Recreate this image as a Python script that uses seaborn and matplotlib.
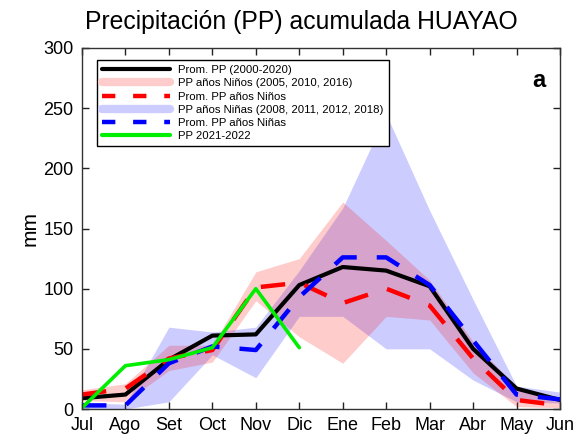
import matplotlib
matplotlib.use("Agg")
import matplotlib.pyplot as plt
import seaborn as sns
import numpy as np
import pandas as pd
from matplotlib.lines import Line2D

# ---------------- data ----------------
months = ["Jul", "Ago", "Set", "Oct", "Nov", "Dic", "Ene", "Feb", "Mar", "Abr", "May", "Jun"]
prom_pp = [9, 12, 41, 61, 62, 103, 118, 115, 102, 50, 17, 7.5]
prom_ninos = [12, 17, 42, 49, 101, 105, 88, 100, 86, 42, 7.5, 3]
prom_ninas = [3, 3, 38, 52, 49, 93, 126, 126, 103, 57, 12, 8]
ninos_max = [16, 21, 53, 53, 114, 125, 172, 140, 107, 56, 18, 6]
ninos_min = [7, 6, 32, 39, 90, 60, 38, 77, 74, 30, 2, 1]
ninas_max = [5, 4, 68, 64, 68, 115, 167, 245, 165, 91, 19, 14]
ninas_min = [0, 0, 6, 45, 26, 77, 77, 50, 50, 24, 6, 5]
pp_2122_months = ["Jul", "Ago", "Set", "Oct", "Nov", "Dic"]
pp_2122 = [1, 36, 41, 51, 100, 51]

labels = ["Prom. PP (2000-2020)",
          "PP años Niños (2005, 2010, 2016)",
          "Prom. PP años Niños",
          "PP años Niñas (2008, 2011, 2012, 2018)",
          "Prom. PP años Niñas",
          "PP 2021-2022"]

# ---------------- style ----------------
sns.set_style("ticks")
plt.rcParams["font.family"] = ["Liberation Sans", "DejaVu Sans"]
plt.rcParams["text.color"] = "black"
plt.rcParams["axes.labelcolor"] = "black"
plt.rcParams["xtick.color"] = "black"
plt.rcParams["ytick.color"] = "black"

fig = plt.figure(figsize=(5.81, 4.34), dpi=100)
ax = fig.add_axes([82/581, 1-409/434, (560-82)/581, (409-48)/434])

xi = np.arange(len(months))
df = pd.DataFrame({"x": xi, "prom": prom_pp, "ninos": prom_ninos, "ninas": prom_ninas,
                   "nmax": ninos_max, "nmin": ninos_min, "amax": ninas_max, "amin": ninas_min})
df_g = pd.DataFrame({"x": np.arange(len(pp_2122_months)), "pp": pp_2122})

pink = (1.0, 0.0, 0.0, 0.2)
lilac = (0.0, 0.0, 1.0, 0.2)

ax.fill_between(df["x"], df["amin"], df["amax"], color=lilac, lw=0)
ax.fill_between(df["x"], df["nmin"], df["nmax"], color=pink, lw=0)

sns.lineplot(data=df, x="x", y="prom", color="black", lw=3.0, ax=ax)
sns.lineplot(data=df, x="x", y="ninos", color="red", lw=3.2, ax=ax)
ax.lines[-1].set_dashes((5.5, 4.5))
sns.lineplot(data=df, x="x", y="ninas", color="blue", lw=3.2, ax=ax)
ax.lines[-1].set_dashes((5.5, 4.5))
sns.lineplot(data=df_g, x="x", y="pp", color="#00ee00", lw=2.6, ax=ax)

ax.set_xlim(0, 11)
ax.set_ylim(0, 300)
ax.set_xticks(xi)
ax.set_xticklabels(months)
ax.set_yticks(np.arange(0, 301, 50))
ax.set_xlabel("")
ax.set_ylabel("mm", fontsize=15, labelpad=3)
ax.tick_params(direction="in", length=5, width=1, top=True, right=True,
               labelsize=13, color="#222222", labelcolor="black", pad=6)
for s in ax.spines.values():
    s.set_visible(True)
    s.set_linewidth(1.0)
    s.set_color("#333333")

fig.text(301/581, 1-22/434, "Precipitación (PP) acumulada HUAYAO", fontsize=17.8,
         ha="center", va="center")
ax.text(0.97, 0.91, "a", transform=ax.transAxes, fontsize=17, fontweight="bold",
        ha="right", va="center")

handles = [
    Line2D([], [], color="black", lw=3.0),
    Line2D([], [], color=(1, 0.8, 0.8), lw=6),
    Line2D([], [], color="red", lw=3.2, dashes=(3, 4)),
    Line2D([], [], color=(0.8, 0.8, 1), lw=6),
    Line2D([], [], color="blue", lw=3.2, dashes=(3, 4)),
    Line2D([], [], color="#00ee00", lw=3.0),
]
leg = ax.legend(handles, labels, loc="upper left", bbox_to_anchor=(15/478, 1-12/361),
                fontsize=8.2, frameon=True, fancybox=False, framealpha=1,
                edgecolor="black", handlelength=6.0, handletextpad=0.7,
                labelspacing=0.28, borderpad=0.45, borderaxespad=0)
leg.get_frame().set_linewidth(1.0)

fig.savefig("out.png", dpi=100)
